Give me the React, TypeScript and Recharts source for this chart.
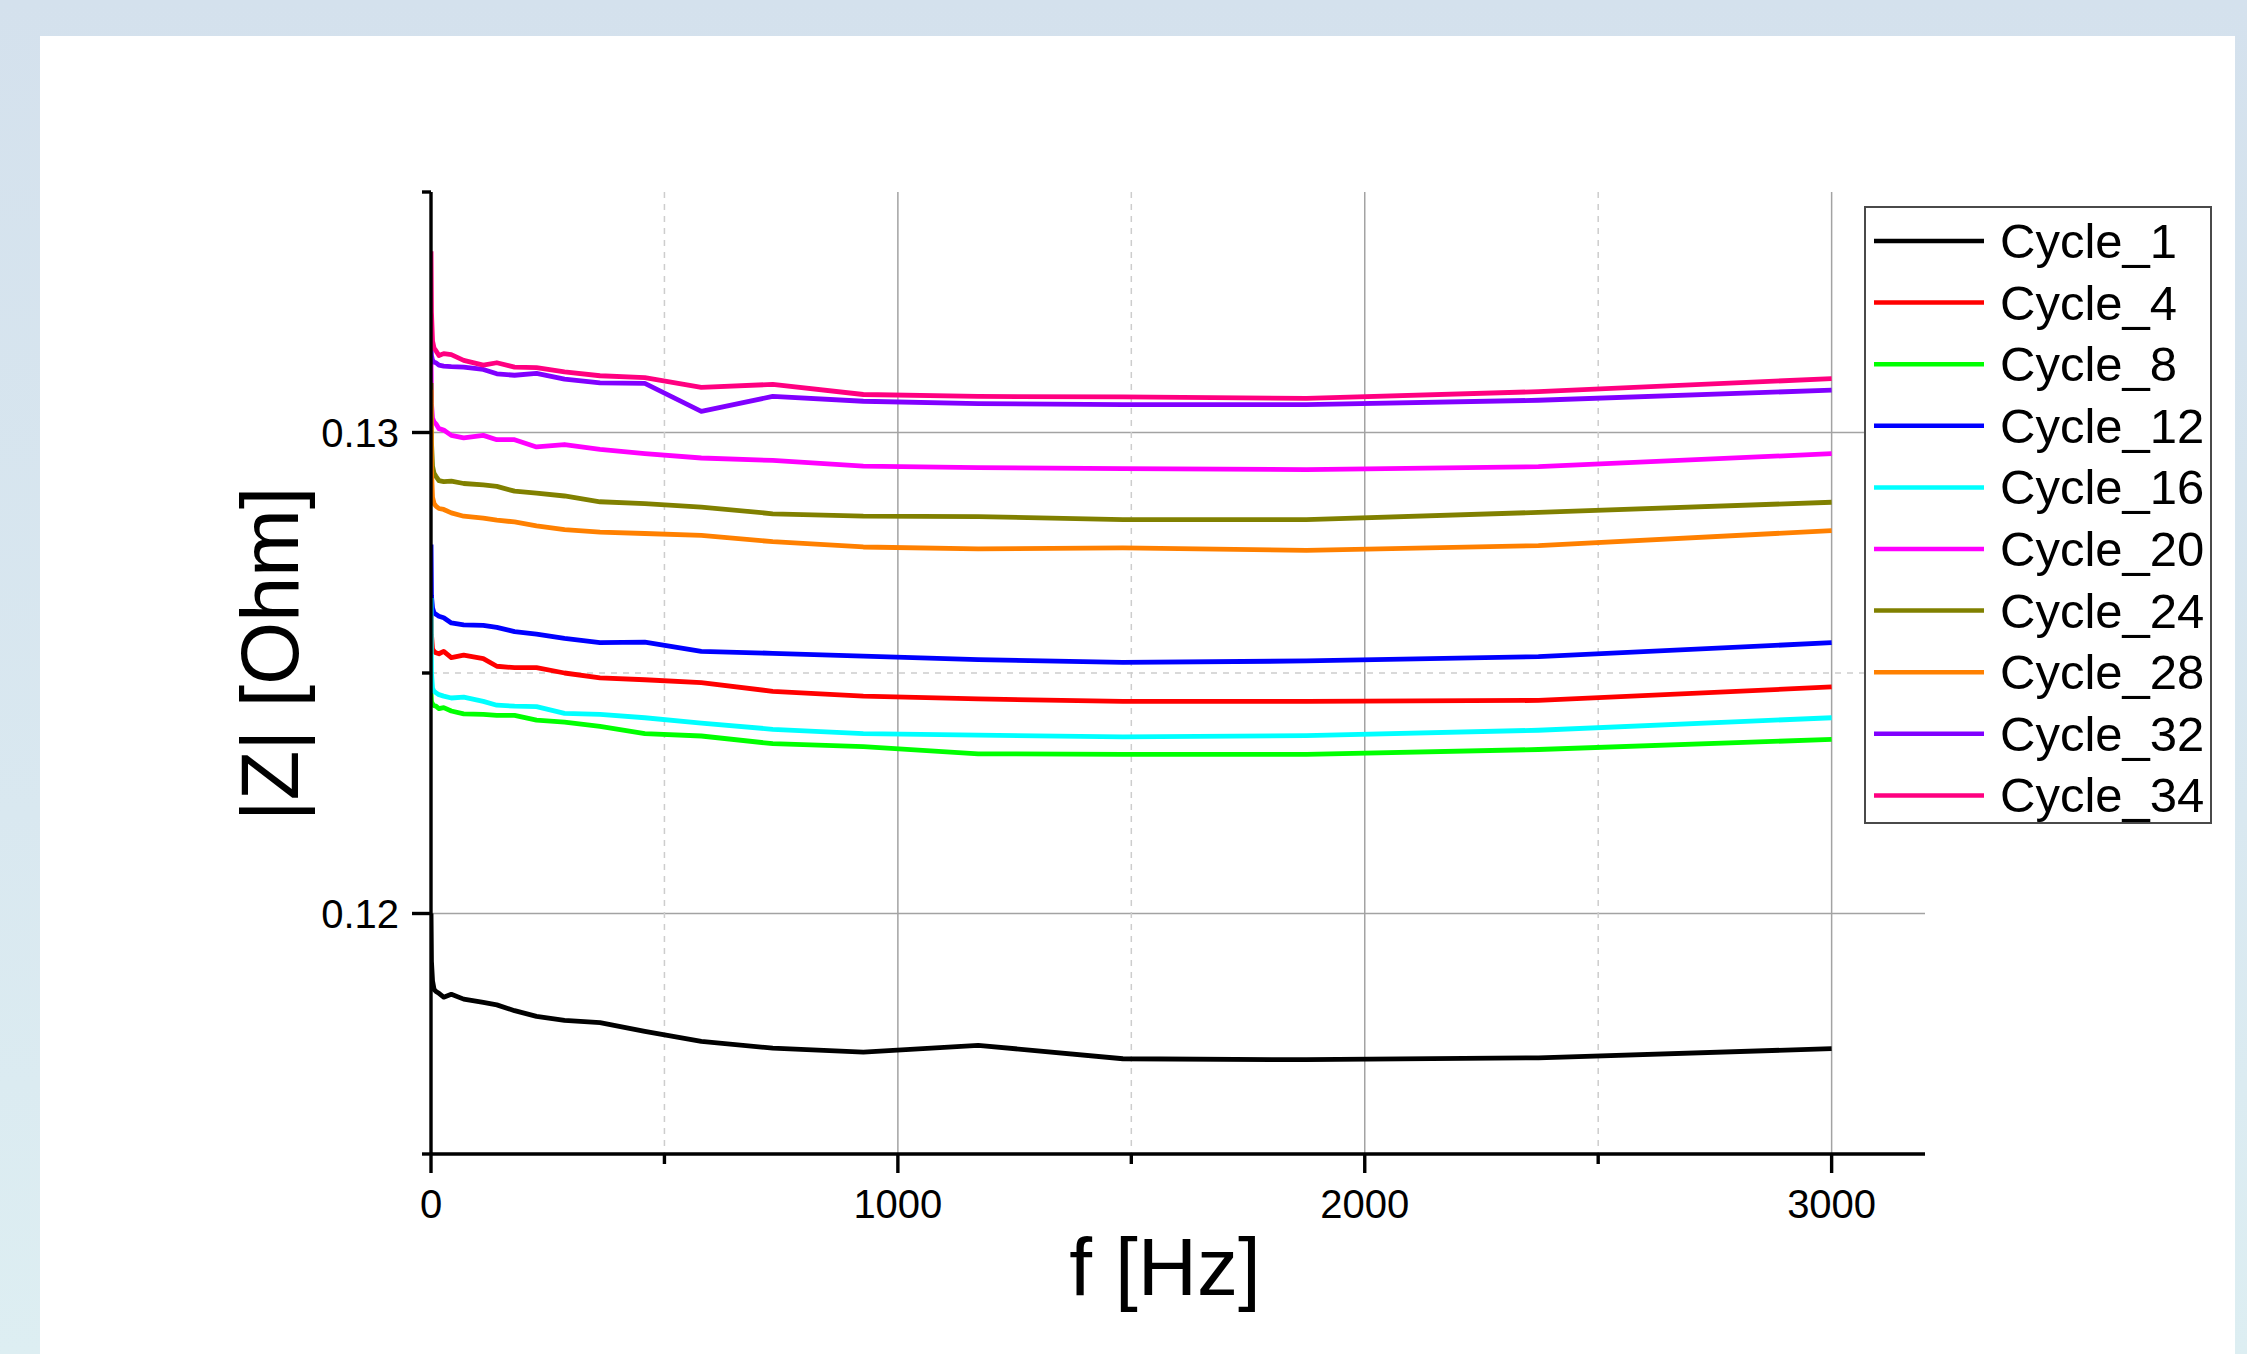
import React from 'react';
import { LineChart, Line, XAxis, YAxis, CartesianGrid, Legend } from 'recharts';

const FREQ = [0.1, 1, 3.3, 6.6, 10.6, 17, 27.2, 43.5, 70, 112, 141, 179, 226, 286, 362, 458, 579, 732, 926, 1172, 1482, 1875, 2372, 3000];

const CYCLE_1 = [0.1200, 0.1190, 0.1186, 0.11842, 0.11838, 0.11834, 0.11826, 0.11832, 0.11822, 0.11815, 0.11810, 0.11798, 0.11786, 0.11778, 0.11773, 0.11755, 0.11734, 0.11720, 0.11712, 0.11726, 0.11698, 0.11696, 0.11700, 0.11719];
const CYCLE_4 = [0.1266, 0.1258, 0.12550, 0.12545, 0.12542, 0.12540, 0.12545, 0.12532, 0.12537, 0.12530, 0.12514, 0.12511, 0.12511, 0.12500, 0.12490, 0.12486, 0.12480, 0.12462, 0.12452, 0.12446, 0.12441, 0.12441, 0.12443, 0.12471];
const CYCLE_8 = [0.12459, 0.1244, 0.12436, 0.12432, 0.12431, 0.12426, 0.12428, 0.12421, 0.12415, 0.12414, 0.12412, 0.12412, 0.12402, 0.12398, 0.12389, 0.12374, 0.12369, 0.12353, 0.12347, 0.12332, 0.12331, 0.12331, 0.12341, 0.12362];
const CYCLE_12 = [0.12767, 0.1266, 0.12635, 0.12625, 0.12622, 0.12618, 0.12615, 0.12604, 0.12600, 0.12599, 0.12595, 0.12586, 0.12581, 0.12572, 0.12563, 0.12564, 0.12545, 0.12541, 0.12535, 0.12528, 0.12522, 0.12525, 0.12534, 0.12563];
const CYCLE_16 = [0.12656, 0.1250, 0.12468, 0.12462, 0.12459, 0.12455, 0.12452, 0.12448, 0.12450, 0.12441, 0.12433, 0.12431, 0.12430, 0.12416, 0.12414, 0.12407, 0.12396, 0.12383, 0.12374, 0.12371, 0.12367, 0.12370, 0.12381, 0.12407];
const CYCLE_20 = [0.1316, 0.1306, 0.13030, 0.13022, 0.13018, 0.13008, 0.13005, 0.12994, 0.12989, 0.12994, 0.12985, 0.12985, 0.12970, 0.12975, 0.12965, 0.12956, 0.12947, 0.12942, 0.12930, 0.12927, 0.12925, 0.12923, 0.12929, 0.12956];
const CYCLE_24 = [0.13103, 0.1298, 0.12930, 0.12915, 0.12909, 0.12900, 0.12898, 0.12899, 0.12894, 0.12891, 0.12888, 0.12878, 0.12874, 0.12868, 0.12856, 0.12852, 0.12845, 0.12831, 0.12826, 0.12825, 0.12819, 0.12819, 0.12834, 0.12855];
const CYCLE_28 = [0.13089, 0.1292, 0.12865, 0.12852, 0.12847, 0.12842, 0.12840, 0.12833, 0.12826, 0.12822, 0.12818, 0.12814, 0.12806, 0.12798, 0.12793, 0.12790, 0.12786, 0.12773, 0.12762, 0.12758, 0.12760, 0.12755, 0.12765, 0.12796];
const CYCLE_32 = [0.13185, 0.1316, 0.13150, 0.13146, 0.13145, 0.13140, 0.13138, 0.13137, 0.13136, 0.13131, 0.13122, 0.13119, 0.13123, 0.13111, 0.13103, 0.13102, 0.13044, 0.13075, 0.13065, 0.13060, 0.13058, 0.13058, 0.13067, 0.13088];
const CYCLE_34 = [0.13377, 0.1325, 0.1319, 0.13175, 0.13170, 0.13160, 0.13164, 0.13162, 0.13150, 0.13140, 0.13145, 0.13136, 0.13135, 0.13126, 0.13118, 0.13114, 0.13094, 0.13100, 0.13079, 0.13075, 0.13074, 0.13071, 0.13085, 0.13112];

const SERIES_NAMES = ['Cycle_1', 'Cycle_4', 'Cycle_8', 'Cycle_12', 'Cycle_16', 'Cycle_20', 'Cycle_24', 'Cycle_28', 'Cycle_32', 'Cycle_34'];
const SERIES_VALUES = [CYCLE_1, CYCLE_4, CYCLE_8, CYCLE_12, CYCLE_16, CYCLE_20, CYCLE_24, CYCLE_28, CYCLE_32, CYCLE_34];
const SERIES_COLORS = ['#000000', '#ff0000', '#00ff00', '#0000ff', '#00ffff', '#ff00ff', '#808000', '#ff8000', '#8000ff', '#ff0080'];

const X_TICKS = [0, 500, 1000, 1500, 2000, 2500, 3000];
const X_MAJOR = [0, 1000, 2000, 3000];
const X_GRID_MAJOR = [1000, 2000, 3000];
const X_GRID_MINOR = [500, 1500, 2500];
const Y_TICKS = [0.115, 0.12, 0.125, 0.13, 0.135];
const Y_MAJOR = [0.12, 0.13];
const Y_GRID_MINOR = [0.125];

const FONT = '"Liberation Sans", Arial, Helvetica, sans-serif';

const rows = FREQ.map((f, i) => {
  const r: Record<string, number> = { f };
  SERIES_NAMES.forEach((n, k) => {
    r[n] = SERIES_VALUES[k][i];
  });
  return r;
});

const isMajor = (v: number, list: number[]) => list.some((m) => Math.abs(m - v) < 1e-9);

const XTick = (props: any) => {
  const { x, y, payload } = props;
  const major = isMajor(payload.value, X_MAJOR);
  return (
    <g>
      <line x1={x} y1={y} x2={x} y2={y + (major ? 19 : 10)} stroke="#000" strokeWidth={3.4} />
      {major && (
        <text x={x} y={y + 64} textAnchor="middle" fontSize={40} fontFamily={FONT} fill="#000">
          {payload.value}
        </text>
      )}
    </g>
  );
};

const YTick = (props: any) => {
  const { x, y, payload } = props;
  const major = isMajor(payload.value, Y_MAJOR);
  return (
    <g>
      <line x1={x} y1={y} x2={x - (major ? 19 : 9)} y2={y} stroke="#000" strokeWidth={3.4} />
      {major && (
        <text x={x - 32} y={y + 14} textAnchor="end" fontSize={40} fontFamily={FONT} fill="#000">
          {payload.value.toFixed(2)}
        </text>
      )}
    </g>
  );
};

const LegendBox = () => (
  <div
    style={{
      width: 348,
      height: 618,
      boxSizing: 'border-box',
      border: '2px solid #4a4a4a',
      background: '#fff',
      position: 'relative',
    }}
  >
    <svg width={344} height={614} style={{ position: 'absolute', left: 0, top: 0, overflow: 'visible' }}>
      {SERIES_NAMES.map((n, i) => {
        const cy = 33 + i * 61.6;
        return (
          <g key={n}>
            <line x1={8} x2={118} y1={cy} y2={cy} stroke={SERIES_COLORS[i]} strokeWidth={4.5} />
            <text x={134} y={cy + 17} fontSize={49} fontFamily={FONT} fill="#000">
              {n}
            </text>
          </g>
        );
      })}
    </svg>
  </div>
);

export default function App() {
  return (
    <div
      style={{
        position: 'absolute',
        left: 0,
        top: 0,
        width: 2247,
        height: 1354,
        overflow: 'hidden',
        background: 'linear-gradient(to bottom, #d4e1ed 0%, #d9e8f0 60%, #ddeef2 100%)',
      }}
    >
      <div style={{ position: 'absolute', left: 40, top: 36, width: 2195, height: 1330, background: '#fff' }} />
      <div style={{ position: 'absolute', left: 0, top: 0 }}>
        <LineChart
          width={2247}
          height={1354}
          data={rows}
          margin={{ top: 192, right: 322, bottom: 140, left: 311 }}
        >
          <CartesianGrid
            horizontalValues={Y_MAJOR}
            verticalValues={X_GRID_MAJOR}
            stroke="#a3a3a3"
            strokeWidth={1.5}
          />
          <CartesianGrid
            horizontalValues={Y_GRID_MINOR}
            verticalValues={X_GRID_MINOR}
            stroke="#cdcdcd"
            strokeWidth={1.5}
            strokeDasharray="6 6"
          />
          <XAxis
            dataKey="f"
            type="number"
            domain={[0, 3200]}
            ticks={X_TICKS}
            interval={0}
            height={60}
            tickSize={0}
            tickMargin={0}
            tickLine={false}
            axisLine={{ stroke: '#000', strokeWidth: 3.4 }}
            tick={<XTick />}
            allowDataOverflow
          />
          <YAxis
            type="number"
            domain={[0.115, 0.135]}
            ticks={Y_TICKS}
            interval={0}
            width={120}
            tickSize={0}
            tickMargin={0}
            tickLine={false}
            axisLine={{ stroke: '#000', strokeWidth: 3.4 }}
            tick={<YTick />}
            allowDataOverflow
          />
          <Legend
            layout="horizontal"
            verticalAlign="middle"
            align="center"
            wrapperStyle={{ left: 1864, top: 206, width: 348, height: 618 }}
            content={() => <LegendBox />}
          />
          {SERIES_NAMES.map((n, i) => (
            <Line
              key={n}
              dataKey={n}
              name={n}
              type="linear"
              stroke={SERIES_COLORS[i]}
              strokeWidth={4.8}
              strokeLinejoin="round"
              dot={false}
              activeDot={false}
              isAnimationActive={false}
            />
          ))}
        </LineChart>
      </div>
      <svg width={2247} height={1354} style={{ position: 'absolute', left: 0, top: 0, pointerEvents: 'none' }}>
        <text x={1165} y={1295} textAnchor="middle" fontSize={82} fontFamily={FONT} fill="#000">
          f [Hz]
        </text>
        <text
          x={298}
          y={654}
          textAnchor="middle"
          fontSize={81}
          fontFamily={FONT}
          fill="#000"
          transform="rotate(-90 298 654)"
        >
          |Z| [Ohm]
        </text>
      </svg>
    </div>
  );
}
